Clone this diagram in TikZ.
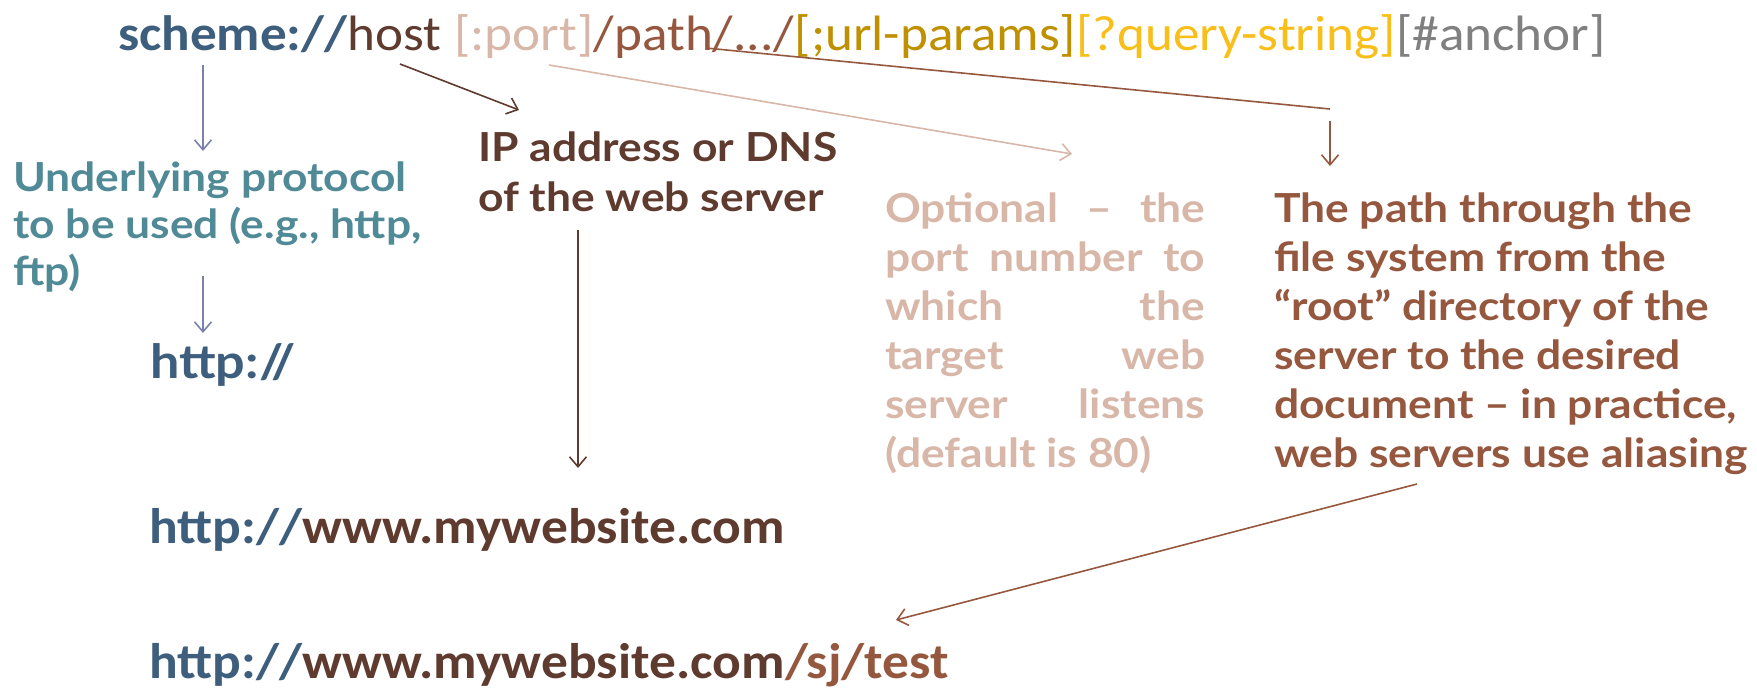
\documentclass[tikz,border=0pt]{standalone}
\usepackage{fontspec}
\setmainfont{Carlito}[FakeStretch=1.07]
\newfontfamily\lbl{Lato}[FakeStretch=1.11]
\usetikzlibrary{arrows.meta,calc}
\definecolor{cblue}{HTML}{3E5E7E}
\definecolor{chost}{HTML}{5E3B2E}
\definecolor{cport}{HTML}{D8B7A9}
\definecolor{cpath}{HTML}{95583F}
\definecolor{curl}{HTML}{BF9000}
\definecolor{cquery}{HTML}{F8BE1A}
\definecolor{canch}{HTML}{808080}
\definecolor{cteal}{HTML}{4F8A96}
\definecolor{clav}{HTML}{7B80AE}
\tikzset{
  topline/.style={inner sep=0pt, anchor=base west, font=\fontsize{49.7}{50}\selectfont},
  label/.style={inner sep=0pt, anchor=north west, align=left, font=\lbl\bfseries\fontsize{40}{49}\selectfont},
  url/.style={inner sep=0pt, anchor=base west, font=\bfseries\fontsize{50}{50}\selectfont},
  arr/.style={line width=1.6pt, -{Straight Barb[length=10pt,width=17pt,line width=1.6pt]}},
}
\begin{document}
\begin{tikzpicture}[x=1pt,y=-1pt]
\useasboundingbox (0,0) rectangle (1757,688);
% top line
\node[topline, text=cblue, font=\bfseries\fontsize{49.7}{50}\selectfont] (sch) at (118,50) {scheme://};
\node[topline, text=chost] (host) at (sch.base east) {host};
\node[topline, text=cport] (port) at (host.base east) {\ [:port]};
\node[topline, text=cpath] (path) at (port.base east) {/path/.../};
\node[topline, text=curl] (urlp) at (path.base east) {[;url-params]};
\node[topline, text=cquery] (qs) at (urlp.base east) {[?query-string]};
\node[topline, text=canch] (anc) at (qs.base east) {[\#anchor]};

% labels
\node[label, text=cteal, font=\lbl\bfseries\fontsize{40}{47}\selectfont] (proto) at (13,162) {Underlying protocol\\to be used (e.g., http,\\ftp)};
\node[label, text=chost, font=\lbl\bfseries\fontsize{40}{50}\selectfont] (ip) at (478,132) {IP address or DNS\\of the web server};
\node[label, text=cport] (opt) at (885,193) {%
\makebox[320pt][s]{Optional \ – \ the}\\
\makebox[320pt][s]{port number to}\\
\makebox[320pt][s]{which the}\\
\makebox[320pt][s]{target web}\\
\makebox[320pt][s]{server listens}\\
(default is 80)};
\node[label, text=cpath] (pdesc) at (1274,193) {The path through the\\file system from the\\“root” directory of the\\server to the desired\\document – in practice,\\web servers use aliasing};

% url examples
\node[label, text=cblue, font=\lbl\bfseries\fontsize{47}{50}\selectfont] (h1) at (150,343) {http://};
\node[url, text=cblue] (u1a) at (149,543) {http://};
\node[url, text=chost] (u1b) at (u1a.base east) {www.mywebsite.com};
\node[url, text=cblue] (u2a) at (149,678) {http://};
\node[url, text=chost] (u2b) at (u2a.base east) {www.mywebsite.com};
\node[url, text=cpath] (u2c) at (u2b.base east) {/sj/test};

% connectors
\coordinate (s1) at (203,65);
\coordinate (e1) at (203,151);
\draw[arr, clav] (s1) -- (e1);
\coordinate (s2) at (203,276);
\coordinate (e2) at (203,333);
\draw[arr, clav] (s2) -- (e2);
\coordinate (s3) at (400,64);
\coordinate (e3) at (519,110);
\draw[arr, chost] (s3) -- (e3);
\coordinate (s4) at (578,230);
\coordinate (e4) at (578,468);
\draw[arr, chost] (s4) -- (e4);
\coordinate (s5) at (549,65);
\coordinate (e5) at (1072,154);
\draw[arr, cport] (s5) -- (e5);
\coordinate (s6) at (706,48);
\coordinate (m6) at (1330,109);
\draw[line width=1.6pt, cpath] (s6) -- (m6);
\coordinate (s7) at (1330,121);
\coordinate (e7) at (1330,166);
\draw[arr, cpath] (s7) -- (e7);
\coordinate (s8) at (1417,484);
\coordinate (e8) at (896,620);
\draw[arr, cpath] (s8) -- (e8);
\end{tikzpicture}
\end{document}
